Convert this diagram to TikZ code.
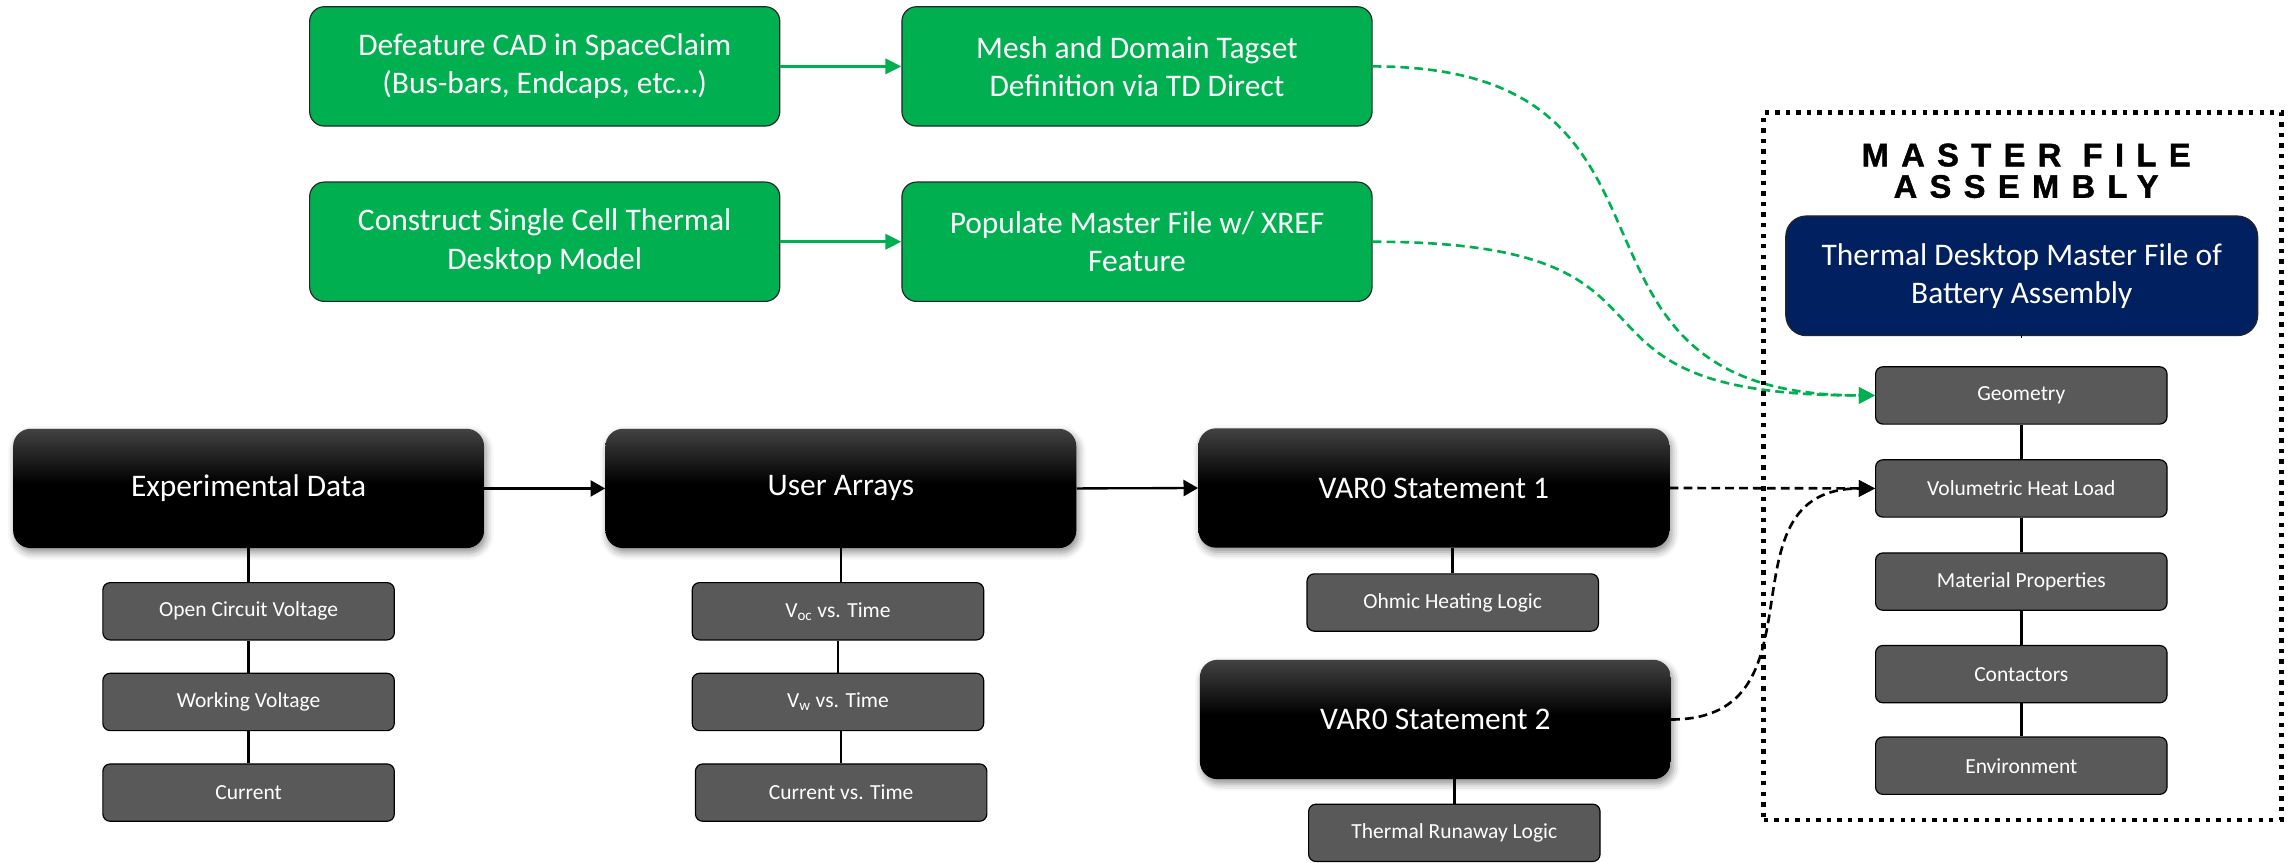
\documentclass[tikz,border=0pt]{standalone}
\usepackage{fontspec}
\setmainfont{Carlito}
\newfontfamily\titlefont[LetterSpace=38,BoldFeatures={FakeBold=1.3}]{Liberation Sans}
\usetikzlibrary{arrows.meta,calc,shadows.blur}
\definecolor{pptgreen}{HTML}{00B050}
\definecolor{pptnavy}{HTML}{002060}
\definecolor{pptgray}{HTML}{595959}
\pgfdeclareverticalshading{blkgrad}{100bp}{color(0bp)=(black); color(25bp)=(black); color(52bp)=(black); color(75bp)=(black!74); color(100bp)=(black!74)}
\tikzset{
  bigfont/.style={font=\fontsize{21.5}{26.2}\selectfont},
  grn/.style={rectangle, rounded corners=10pt, fill=pptgreen, draw=black!85, line width=0.8pt,
    minimum width=321.5pt, minimum height=81.6pt, inner sep=0pt, text=white, align=center, bigfont},
  blk/.style={rectangle, rounded corners=12pt, shade, shading=blkgrad,
    minimum width=322pt, minimum height=81.6pt, inner sep=0pt, text=white, align=center, bigfont,
    blur shadow={shadow xshift=1.5pt, shadow yshift=-3pt, shadow blur radius=5pt, shadow opacity=45}},
  nvy/.style={rectangle, rounded corners=14pt, fill=pptnavy, draw=black!85, line width=0.8pt,
    minimum width=322.7pt, minimum height=81.8pt, inner sep=0pt, text=white, align=center, bigfont},
  gry/.style={rectangle, rounded corners=5pt, fill=pptgray, draw=black, line width=0.8pt,
    minimum width=199.3pt, minimum height=39.2pt, inner sep=0pt, text=white,
    font=\fontsize{14.7}{17}\selectfont},
  frm/.style={rectangle, draw=black, line width=3pt, dash pattern=on 3pt off 4.2pt,
    minimum width=354pt, minimum height=483.7pt, inner sep=0pt},
  link/.style={line width=1.8pt, black},
  karr/.style={line width=1.6pt, black, -{Triangle[length=10pt,width=11pt]}},
  garr/.style={line width=2pt, pptgreen, -{Triangle[length=11pt,width=10.5pt]}},
  gdash/.style={line width=1.8pt, pptgreen, dash pattern=on 6pt off 3.5pt, -{Triangle[length=11pt,width=11pt]}},
  kdash/.style={line width=1.8pt, black, dash pattern=on 6pt off 3.5pt, -{Triangle[length=11pt,width=11pt]}},
}
\begin{document}
\begin{tikzpicture}[x=1pt,y=-1pt]
\useasboundingbox (0,0) rectangle (1568,589.5);

% green boxes
\node[grn] (g1) at (372.5,45.4) {Defeature CAD in SpaceClaim\\(Bus-bars, Endcaps, etc…)};
\node[grn] (g2) at (777.5,45.4) {Mesh and Domain Tagset\\Definition via TD Direct};
\node[grn] (g3) at (372.5,165.3) {Construct Single Cell Thermal\\Desktop Model};
\node[grn] (g4) at (777.5,165.3) {Populate Master File w/ XREF\\Feature};

% black boxes
\node[blk] (ed) at (170,334) {Experimental Data};
\node[blk] (ua) at (575,334) {User Arrays};
\node[blk] (v1) at (980.5,333.7) {VAR0 Statement 1};
\node[blk] (v2) at (981.5,492) {VAR0 Statement 2};

% gray boxes left
\node[gry] (ocv) at (170,418) {Open Circuit Voltage};
\node[gry] (wv)  at (170,480) {Working Voltage};
\node[gry] (cur) at (170,542) {Current};
\node[gry] (voc) at (573,418) {V\textsubscript{oc} vs. Time};
\node[gry] (vw)  at (573,480) {V\textsubscript{w} vs. Time};
\node[gry] (cvt) at (575.2,542) {Current vs. Time};
\node[gry] (ohm) at (993.4,412) {Ohmic Heating Logic};
\node[gry] (tra) at (994.5,569.5) {Thermal Runaway Logic};

% master file assembly
\node[inner sep=0pt, align=center, font=\titlefont\bfseries\fontsize{22.3}{21.5}\selectfont]
  (title) at (1385.5,116.8) {MASTER FILE\\ASSEMBLY};
\node[nvy] (td) at (1382.5,188.6) {Thermal Desktop Master File of\\Battery Assembly};
\node[gry] (geo) at (1382.2,270.4) {Geometry};
\node[gry] (vhl) at (1382.2,334) {Volumetric Heat Load};
\node[gry] (mat) at (1382.2,397.7) {Material Properties};
\node[gry] (con) at (1382.2,461) {Contactors};
\node[gry] (env) at (1382.2,523.6) {Environment};

% vertical links
\draw[link] (ed.south) -- (ocv.north);
\draw[link] (ocv.south) -- (wv.north);
\draw[link] (wv.south) -- (cur.north);
\draw[link] (ua.south) -- (ua.south |- voc.north);
\draw[link] (voc.south) -- (vw.north);
\draw[link] (cvt.north) -- (cvt.north |- vw.south);
\draw[link] (ohm.north) -- (ohm.north |- v1.south);
\draw[link] (tra.north) -- (tra.north |- v2.south);
\draw[link] (td.south) -- (td.south -| geo.north);
\draw[link] (geo.south) -- (vhl.north);
\draw[link] (vhl.south) -- (mat.north);
\draw[link] (mat.south) -- (con.north);
\draw[link] (con.south) -- (env.north);

% arrows
\draw[garr] (g1.east) -- (g2.west);
\draw[garr] (g3.east) -- (g4.west);
\draw[karr] (ed.east) -- (ua.west);
\draw[karr] (ua.east) -- (v1.west);

% dashed connectors
\draw[gdash] (g2.east) .. controls ($(g2.east)+(240,0)$) and ($(geo.west)+(-240,0)$) .. (geo.west);
\draw[gdash] (g4.east) .. controls ($(g4.east)+(240,0)$) and ($(geo.west)+(-240,0)$) .. (geo.west);
\draw[kdash] (v1.east) -- (vhl.west);
\draw[kdash] (v2.east) .. controls ($(v2.east)+(110,0)$) and ($(vhl.west)+(-110,0)$) .. (vhl.west);

% dotted frame
\node[frm] (frame) at (1383,318.85) {};
\end{tikzpicture}
\end{document}
